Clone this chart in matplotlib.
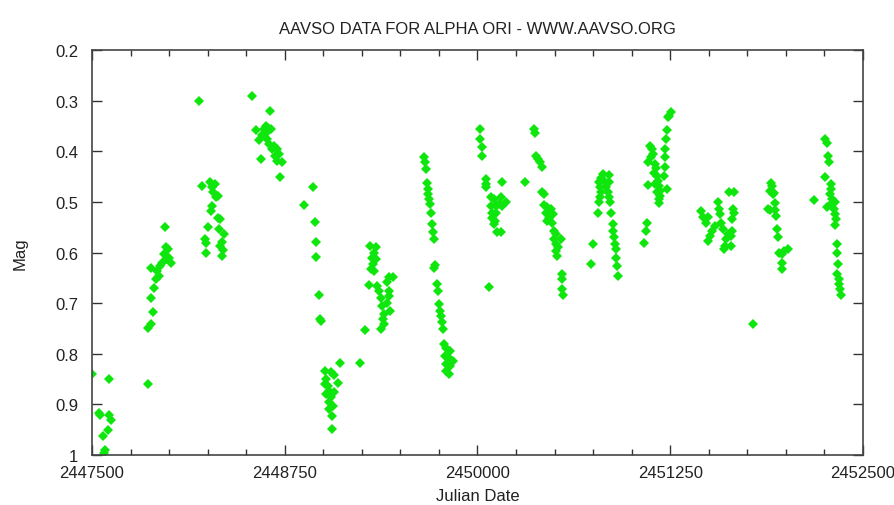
import numpy as np
import matplotlib.pyplot as plt
from matplotlib.ticker import MultipleLocator

# Alpha Ori (Betelgeuse) visual estimates
# one pair of lists per observing season
jd_1988 = [2447503, 2447613, 2447543, 2447550, 2447613, 2447626, 2447602, 2447570, 2447583, 2447578]
mag_1988 = [0.840, 0.850, 0.918, 0.920, 0.921, 0.930, 0.950, 0.962, 0.990, 0.996]

jd_1989 = [2447863, 2447865, 2447880, 2447896, 2447880, 2447902, 2447913, 2447880, 2447924, 2447935,
           2447939, 2447956, 2447978, 2448000, 2447967, 2447996, 2447983, 2447974, 2448011]
mag_1989 = [0.860, 0.750, 0.741, 0.718, 0.689, 0.671, 0.653, 0.630, 0.636, 0.646,
            0.626, 0.620, 0.613, 0.610, 0.603, 0.593, 0.590, 0.550, 0.620]

jd_1990 = [2448191, 2448211, 2448265, 2448280, 2448300, 2448287, 2448304, 2448320, 2448272, 2448278,
           2448315, 2448330, 2448250, 2448326, 2448353, 2448235, 2448239, 2448346, 2448333, 2448352,
           2448239, 2448342]
mag_1990 = [0.300, 0.469, 0.460, 0.470, 0.465, 0.481, 0.491, 0.488, 0.518, 0.508,
            0.531, 0.534, 0.550, 0.554, 0.564, 0.573, 0.582, 0.580, 0.587, 0.595,
            0.600, 0.606]

jd_1991 = [2448538, 2448652, 2448564, 2448626, 2448643, 2448658, 2448604, 2448586, 2448637, 2448647,
           2448680, 2448702, 2448665, 2448713, 2448687, 2448599, 2448698, 2448735, 2448719, 2448626,
           2448615]
mag_1991 = [0.290, 0.320, 0.359, 0.351, 0.355, 0.356, 0.368, 0.377, 0.375, 0.386,
            0.389, 0.396, 0.396, 0.406, 0.409, 0.415, 0.419, 0.422, 0.450, 0.363,
            0.356]

jd_1992 = [2448931, 2448872, 2448946, 2448953, 2448953, 2448970, 2448978, 2448982, 2449008, 2449051,
           2449106, 2449018, 2449072, 2449008, 2449029, 2449095, 2449040, 2449018, 2449072, 2449051,
           2449036, 2449062, 2449040, 2449057, 2449055]
mag_1992 = [0.470, 0.506, 0.539, 0.580, 0.608, 0.684, 0.731, 0.735, 0.834, 0.837,
            0.819, 0.850, 0.842, 0.860, 0.863, 0.858, 0.873, 0.879, 0.876, 0.886,
            0.896, 0.903, 0.909, 0.923, 0.948]

jd_1993 = [2449239, 2449269, 2449303, 2449340, 2449329, 2449318, 2449340, 2449325, 2449308, 2449329,
           2449297, 2449350, 2449425, 2449451, 2449415, 2449361, 2449425, 2449372, 2449425, 2449415,
           2449382, 2449432, 2449393, 2449387, 2449393, 2449376]
mag_1993 = [0.819, 0.753, 0.588, 0.590, 0.601, 0.610, 0.613, 0.623, 0.633, 0.636,
            0.664, 0.667, 0.649, 0.649, 0.659, 0.677, 0.676, 0.689, 0.686, 0.699,
            0.705, 0.715, 0.721, 0.732, 0.741, 0.751]

jd_1994 = [2449650, 2449660, 2449667, 2449671, 2449682, 2449678, 2449688, 2449692, 2449697, 2449703,
           2449714, 2449718, 2449724, 2449720, 2449735, 2449741, 2449750, 2449756, 2449761, 2449767,
           2449774, 2449782, 2449799, 2449820, 2449788, 2449810, 2449838, 2449793, 2449820, 2449799,
           2449816]
mag_1994 = [0.412, 0.422, 0.435, 0.462, 0.475, 0.485, 0.494, 0.504, 0.521, 0.544,
            0.560, 0.573, 0.625, 0.630, 0.662, 0.676, 0.702, 0.715, 0.725, 0.738,
            0.751, 0.781, 0.788, 0.794, 0.804, 0.807, 0.814, 0.821, 0.824, 0.834,
            0.840]

jd_1995 = [2450015, 2450015, 2450032, 2450032, 2450054, 2450058, 2450054, 2450075, 2450162, 2450308,
           2450086, 2450108, 2450151, 2450183, 2450086, 2450118, 2450140, 2450097, 2450123, 2450162,
           2450092, 2450114, 2450108, 2450129, 2450151]
mag_1995 = [0.356, 0.375, 0.392, 0.409, 0.455, 0.465, 0.471, 0.669, 0.460, 0.460,
            0.491, 0.494, 0.491, 0.501, 0.508, 0.508, 0.504, 0.521, 0.521, 0.508,
            0.531, 0.537, 0.544, 0.559, 0.559]

jd_1996 = [2450366, 2450373, 2450381, 2450394, 2450403, 2450416, 2450420, 2450431, 2450431, 2450453,
           2450474, 2450442, 2450489, 2450463, 2450453, 2450481, 2450496, 2450506, 2450496, 2450539,
           2450506, 2450524, 2450506, 2450517, 2450545, 2450550, 2450550, 2450554]
mag_1996 = [0.356, 0.364, 0.409, 0.415, 0.422, 0.432, 0.480, 0.485, 0.506, 0.511,
            0.514, 0.521, 0.524, 0.531, 0.537, 0.541, 0.557, 0.564, 0.574, 0.574,
            0.583, 0.590, 0.597, 0.607, 0.643, 0.653, 0.672, 0.684]

jd_1997 = [2450735, 2450752, 2450801, 2450812, 2450850, 2450791, 2450822, 2450855, 2450795, 2450833,
           2450801, 2450844, 2450795, 2450850, 2450791, 2450859, 2450780, 2450865, 2450876, 2450880,
           2450887, 2450893, 2450897, 2450897, 2450903, 2450914]
mag_1997 = [0.623, 0.583, 0.452, 0.445, 0.447, 0.461, 0.458, 0.461, 0.471, 0.471,
            0.481, 0.481, 0.491, 0.491, 0.501, 0.501, 0.521, 0.521, 0.544, 0.557,
            0.570, 0.583, 0.593, 0.610, 0.626, 0.647]

jd_1998 = [2451079, 2451094, 2451100, 2451107, 2451107, 2451122, 2451133, 2451137, 2451128, 2451150,
           2451158, 2451143, 2451165, 2451171, 2451150, 2451180, 2451186, 2451165, 2451186, 2451180,
           2451175, 2451207, 2451214, 2451218, 2451218, 2451222, 2451229, 2451235, 2451244, 2451256,
           2451229]
mag_1998 = [0.581, 0.557, 0.541, 0.467, 0.422, 0.389, 0.396, 0.406, 0.412, 0.425,
            0.434, 0.442, 0.448, 0.458, 0.465, 0.468, 0.478, 0.481, 0.488, 0.494,
            0.502, 0.448, 0.432, 0.412, 0.396, 0.376, 0.359, 0.333, 0.330, 0.323,
            0.475]

jd_1999 = [2451449, 2451464, 2451479, 2451496, 2451496, 2451511, 2451524, 2451539, 2451560, 2451564,
           2451571, 2451581, 2451592, 2451603, 2451598, 2451613, 2451624, 2451628, 2451662, 2451655,
           2451662, 2451651, 2451649, 2451645, 2451645, 2451785]
mag_1999 = [0.518, 0.529, 0.541, 0.529, 0.577, 0.567, 0.557, 0.547, 0.501, 0.514,
            0.524, 0.541, 0.554, 0.587, 0.593, 0.573, 0.564, 0.481, 0.480, 0.514,
            0.521, 0.534, 0.557, 0.567, 0.587, 0.741]

jd_2000 = [2451903, 2451907, 2451899, 2451920, 2451914, 2451881, 2451899, 2451929, 2451929, 2451935,
           2451942, 2451946, 2451957, 2451972, 2451989, 2452015, 2451978, 2451978]
mag_2000 = [0.462, 0.468, 0.479, 0.482, 0.485, 0.514, 0.517, 0.502, 0.517, 0.527,
            0.554, 0.570, 0.600, 0.603, 0.597, 0.593, 0.620, 0.633]

jd_2001 = [2452183, 2452252, 2452265, 2452274, 2452280, 2452252, 2452291, 2452295, 2452287, 2452302,
           2452291, 2452269, 2452317, 2452313, 2452317, 2452324, 2452317, 2452330, 2452334, 2452339,
           2452334, 2452345, 2452345, 2452352, 2452356]
mag_2001 = [0.497, 0.376, 0.384, 0.409, 0.422, 0.450, 0.465, 0.475, 0.485, 0.495,
            0.504, 0.511, 0.501, 0.514, 0.524, 0.534, 0.546, 0.583, 0.601, 0.623,
            0.643, 0.653, 0.662, 0.672, 0.684]

jd = np.concatenate([jd_1988, jd_1989, jd_1990, jd_1991, jd_1992, jd_1993, jd_1994,
                     jd_1995, jd_1996, jd_1997, jd_1998, jd_1999, jd_2000, jd_2001])
mag = np.concatenate([mag_1988, mag_1989, mag_1990, mag_1991, mag_1992, mag_1993, mag_1994,
                      mag_1995, mag_1996, mag_1997, mag_1998, mag_1999, mag_2000, mag_2001])

x_ticks = [2447500, 2448750, 2450000, 2451250, 2452500]
y_ticks = [0.2, 0.3, 0.4, 0.5, 0.6, 0.7, 0.8, 0.9, 1.0]
y_labels = ["0.2", "0.3", "0.4", "0.5", "0.6", "0.7", "0.8", "0.9", "1"]

plt.rcParams['font.family'] = ['Liberation Sans', 'DejaVu Sans']

fig = plt.figure(figsize=(8.95, 5.06), dpi=100)
ax = fig.add_axes([0.1028, 0.0988, 0.8614, 0.8004])

ax.plot(jd, mag, linestyle='none', marker='D', markersize=4.8,
        color='#0ee60e', markeredgewidth=0)

ax.set_xlim(2447500, 2452500)
ax.set_ylim(1.0, 0.2)  # magnitudes: brighter is up
ax.set_xticks(x_ticks)
ax.set_xticklabels([str(t) for t in x_ticks])
ax.xaxis.set_minor_locator(MultipleLocator(250))
ax.set_yticks(y_ticks)
ax.set_yticklabels(y_labels)

ax.tick_params(axis='both', which='both', direction='in', top=True, right=True,
               color='#333333', labelsize=12, labelcolor='#222222')
ax.tick_params(axis='both', which='major', length=7, width=1)
ax.tick_params(axis='x', which='minor', length=4, width=1)
ax.tick_params(axis='x', which='major', pad=7)
ax.tick_params(axis='y', which='major', pad=10)
for sp in ax.spines.values():
    sp.set_color('#444444')
    sp.set_linewidth(1.2)

ax.set_title("AAVSO DATA FOR ALPHA ORI - WWW.AAVSO.ORG", fontsize=12, color='#222222', pad=12)
ax.set_xlabel("Julian Date", fontsize=12, color='#222222', labelpad=6)
ax.set_ylabel("Mag", fontsize=12, color='#222222', labelpad=20)

fig.savefig("out.png", dpi=100)
